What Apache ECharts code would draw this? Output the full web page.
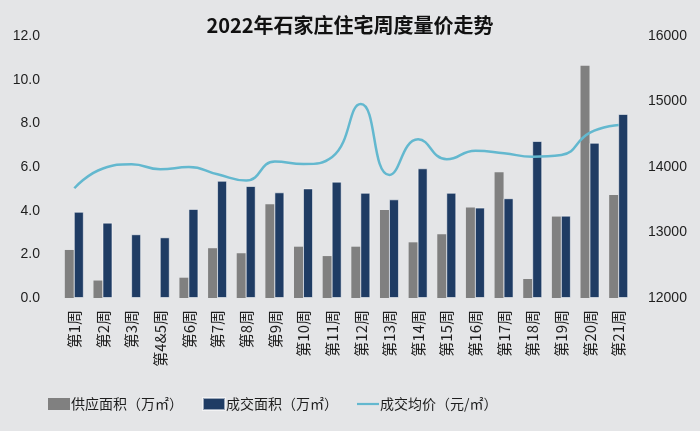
<!DOCTYPE html>
<html>
<head>
<meta charset="utf-8">
<script src="https://cdn.jsdelivr.net/npm/echarts@6/dist/echarts.min.js"></script>
<style>
  html, body { margin: 0; padding: 0; background: #e4e5e7; }
  #chart { width: 700px; height: 431px; }
</style>
</head>
<body>
<div id="chart"></div>
<script>
// weekly residential supply / sales / price, Shijiazhuang 2022
var weeks = ["第1周", "第2周", "第3周", "第4&5周", "第6周", "第7周", "第8周", "第9周", "第10周", "第11周",
             "第12周", "第13周", "第14周", "第15周", "第16周", "第17周", "第18周", "第19周", "第20周", "第21周"];
var supplyArea = [2.2, 0.8, 0, 0, 0.93, 2.28, 2.05, 4.29, 2.35, 1.92,
                  2.35, 4.03, 2.55, 2.92, 4.14, 5.76, 0.87, 3.73, 10.64, 4.72];
var dealArea = [3.95, 3.45, 2.92, 2.78, 4.08, 5.37, 5.13, 4.84, 5.02, 5.33,
                4.82, 4.52, 5.94, 4.82, 4.14, 4.57, 7.19, 3.77, 7.11, 8.43];
var avgPrice = [13675, 13977, 14042, 13965, 14000, 13889, 13794, 14084, 14046, 14153,
                14962, 13878, 14423, 14118, 14249, 14210, 14158, 14184, 14524, 14642];
var names = ["供应面积（万㎡）", "成交面积（万㎡）", "成交均价（元/㎡）"];

var textColor = "#1e1e1e";
var myChart = echarts.init(document.getElementById("chart"));

var option = {
    backgroundColor: "#e4e5e7",
    animation: false,
    title: {
        text: "2022年石家庄住宅周度量价走势",
        left: "center",
        top: 10,
        textStyle: { fontSize: 20, fontWeight: "bold", color: "#111", fontFamily: "Noto Sans CJK SC" }
    },
    legend: {
        left: 43,
        top: 392,
        itemWidth: 22,
        itemHeight: 12,
        itemGap: 19,
        textStyle: { fontSize: 14, color: textColor, fontFamily: "Noto Sans CJK SC", padding: [0, 0, 0, -4] },
        data: [
            { name: names[0], icon: "rect" },
            { name: names[1], icon: "rect" },
            { name: names[2], icon: "path://M0 0H30V3H0Z" }
        ]
    },
    grid: { left: 60, right: 67, top: 36, bottom: 133 },
    xAxis: {
        type: "category",
        data: weeks,
        axisLine: { show: false },
        axisTick: { show: false },
        axisLabel: {
            rotate: 90,
            interval: 0,
            margin: 12,
            fontSize: 15,
            color: textColor,
            fontFamily: "Noto Sans CJK SC"
        }
    },
    yAxis: [
        {
            type: "value",
            min: 0, max: 12, interval: 2,
            splitLine: { show: false },
            axisLabel: {
                margin: 20, fontSize: 14, color: textColor, fontFamily: "Liberation Sans",
                formatter: function (v) { return v.toFixed(1); }
            }
        },
        {
            type: "value",
            min: 12000, max: 16000, interval: 1000,
            splitLine: { show: false },
            axisLabel: {
                margin: 15, fontSize: 14, color: textColor, fontFamily: "Liberation Sans",
                formatter: function (v) { return String(v); }
            }
        }
    ],
    series: [
        {
            name: names[0],
            type: "bar",
            data: supplyArea,
            barWidth: 9,
            barGap: "0%",
            itemStyle: { color: "#808080" }
        },
        {
            name: names[1],
            type: "bar",
            data: dealArea,
            barWidth: 10,
            itemStyle: { color: "#1f3c64", borderColor: "rgba(255,255,255,0.55)", borderWidth: 1 }
        },
        {
            name: names[2],
            type: "line",
            yAxisIndex: 1,
            data: avgPrice,
            smooth: 0.5,
            showSymbol: false,
            symbol: "none",
            lineStyle: { color: "#63b8cf", width: 2.5 },
            itemStyle: { color: "#63b8cf" },
            z: 5
        }
    ]
};
myChart.setOption(option);
</script>
</body>
</html>
